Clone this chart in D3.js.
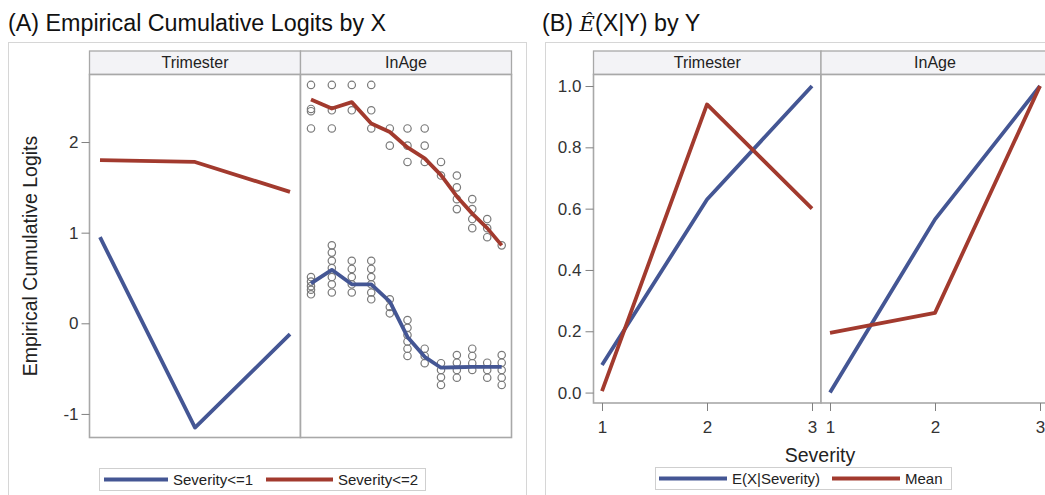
<!DOCTYPE html>
<html>
<head>
<meta charset="utf-8">
<script src="https://cdn.jsdelivr.net/npm/d3@7"></script>
<style>
  body { margin: 0; background: #fff; }
  text { font-family: "Liberation Sans", Arial, sans-serif; }
</style>
</head>
<body>
<div id="chart"></div>
<script>
// ---- data ----
var panels = ["Trimester", "InAge"];

// (A) empirical cumulative logits
var trimester = [1, 2, 3];
var triSev1 = [0.95, -1.15, -0.12];
var triSev2 = [1.80, 1.78, 1.45];

var lnAge = [3.045, 3.091, 3.135, 3.178, 3.219, 3.258, 3.296, 3.332, 3.367, 3.401, 3.434, 3.466];
var ageSev1 = [0.44, 0.59, 0.43, 0.43, 0.24, -0.15, -0.37, -0.49, -0.485, -0.48, -0.48, -0.48];
var ageSev2 = [2.47, 2.37, 2.44, 2.205, 2.11, 1.94, 1.82, 1.635, 1.40, 1.21, 1.05, 0.86];

// scatter of observed logits per lnAge column
var ageObs1 = [
  [0.51, 0.46, 0.41, 0.37, 0.32],
  [0.86, 0.78, 0.69, 0.61, 0.51, 0.43, 0.34],
  [0.69, 0.60, 0.51, 0.43, 0.34],
  [0.69, 0.60, 0.51, 0.43, 0.34, 0.265],
  [0.265, 0.18, 0.11],
  [0.036, -0.05, -0.13, -0.20, -0.28, -0.36],
  [-0.28, -0.36, -0.44],
  [-0.44, -0.515, -0.595, -0.68],
  [-0.35, -0.435, -0.515, -0.60],
  [-0.28, -0.36, -0.44, -0.515],
  [-0.435, -0.515, -0.60],
  [-0.35, -0.435, -0.515, -0.60, -0.68]
];
var ageObs2 = [
  [2.63, 2.365, 2.34, 2.15],
  [2.63, 2.35, 2.15],
  [2.63, 2.35],
  [2.63, 2.35, 2.15],
  [2.15, 1.96],
  [2.15, 1.96, 1.78],
  [2.15, 1.96, 1.78],
  [1.78, 1.63],
  [1.63, 1.50, 1.37, 1.26],
  [1.37, 1.26, 1.15, 1.05],
  [1.15, 1.05, 0.95],
  [0.86]
];
var logitTicks = [-1, 0, 1, 2];

// (B) E(X|Y) by Y
var severity = [1, 2, 3];
var bTriE = [0.09, 0.63, 1.0];
var bTriMean = [0.005, 0.94, 0.60];
var bAgeE = [0.0, 0.565, 1.0];
var bAgeMean = [0.195, 0.26, 1.0];
var propTicks = [0, 0.2, 0.4, 0.6, 0.8, 1.0];

var legendA = ["Severity<=1", "Severity<=2"];
var legendB = ["E(X|Severity)", "Mean"];

// ---- styles ----
var blue = "#445694", red = "#A23A2E";
var frameColor = "#d6d6d6", borderColor = "#a8a8a8";

var svg = d3.select("#chart").append("svg")
    .attr("width", 1045)
    .attr("height", 495);

// outer frames
svg.append("rect").attr("x", 8.5).attr("y", 42.5).attr("width", 518).attr("height", 470)
    .attr("fill", "none").attr("stroke", frameColor);
svg.append("rect").attr("x", 545.5).attr("y", 42.5).attr("width", 520).attr("height", 470)
    .attr("fill", "none").attr("stroke", frameColor);

// titles
svg.append("text").attr("x", 8).attr("y", 31)
    .style("font-size", "23.3px").attr("fill", "#111")
    .text("(A) Empirical Cumulative Logits by X");

var tB = svg.append("text").attr("x", 542).attr("y", 31)
    .style("font-size", "23.3px").attr("fill", "#111");
tB.append("tspan").text("(B) ");
tB.append("tspan").style("font-family", "'DejaVu Serif', serif").style("font-style", "italic")
    .style("font-size", "21px").text("Ê");
tB.append("tspan").text("(X|Y) by Y");

var line = d3.line().x(d => d[0]).y(d => d[1]);

function facet(x0, x1, top, bot, label) {
  svg.append("rect").attr("x", x0).attr("y", 51).attr("width", x1 - x0).attr("height", top - 51)
      .attr("fill", "#f3f3f6").attr("stroke", borderColor).attr("stroke-width", 1.3);
  svg.append("text").attr("x", (x0 + x1) / 2).attr("y", 68)
      .attr("text-anchor", "middle").style("font-size", "16px").attr("fill", "#222")
      .text(label);
  svg.append("rect").attr("x", x0).attr("y", top).attr("width", x1 - x0).attr("height", bot - top)
      .attr("fill", "#fff").attr("stroke", borderColor).attr("stroke-width", 1.6);
}

function styleAxis(g, size) {
  g.select(".domain").remove();
  g.selectAll(".tick line").attr("stroke", "#808080");
  g.selectAll(".tick text").style("font-size", size).attr("fill", "#333");
}

// ================= (A) =================
var aTop = 74.5, aBot = 437.5;
var yA = d3.scaleLinear().domain([-1.26, 2.745]).range([aBot, aTop]);
var xTri = d3.scaleLinear().domain([1, 3]).range([100, 290]);
var xAge = d3.scaleLinear().domain([3.045, 3.466]).range([311, 501.7]);

facet(89.5, 300.5, aTop, aBot, panels[0]);
facet(300.5, 511.5, aTop, aBot, panels[1]);

svg.append("g").attr("transform", "translate(89.5,0)")
    .call(d3.axisLeft(yA).tickValues(logitTicks).tickSize(8).tickPadding(3).tickFormat(d => String(d)))
    .call(g => styleAxis(g, "17px"));

svg.append("text")
    .attr("transform", "translate(37," + ((aTop + aBot) / 2) + ") rotate(-90)")
    .attr("text-anchor", "middle").style("font-size", "19.5px").attr("fill", "#222")
    .text("Empirical Cumulative Logits");

// observed circles
[ageObs1, ageObs2].forEach(function(obs) {
  obs.forEach(function(col, i) {
    svg.append("g").selectAll("circle").data(col).enter().append("circle")
        .attr("cx", xAge(lnAge[i]))
        .attr("cy", d => yA(d))
        .attr("r", 3.7)
        .attr("fill", "none")
        .attr("stroke", "#7a7a7a")
        .attr("stroke-width", 1.2);
  });
});

function drawLine(xs, ys, xsc, ysc, color) {
  svg.append("path")
      .datum(xs.map((v, i) => [xsc(v), ysc(ys[i])]))
      .attr("d", line)
      .attr("fill", "none")
      .attr("stroke", color)
      .attr("stroke-width", 3.8)
      .attr("stroke-linejoin", "round");
}

drawLine(trimester, triSev1, xTri, yA, blue);
drawLine(trimester, triSev2, xTri, yA, red);
drawLine(lnAge, ageSev1, xAge, yA, blue);
drawLine(lnAge, ageSev2, xAge, yA, red);

function legend(x, y, w, labels, items) {
  svg.append("rect").attr("x", x).attr("y", y).attr("width", w).attr("height", 22)
      .attr("fill", "#fff").attr("stroke", "#cfcfcf");
  items.forEach(function(it, i) {
    svg.append("line").attr("x1", it[0]).attr("x2", it[1]).attr("y1", y + 11).attr("y2", y + 11)
        .attr("stroke", i === 0 ? blue : red).attr("stroke-width", 3.8);
    svg.append("text").attr("x", it[1] + 5).attr("y", y + 16.5)
        .style("font-size", "15px").attr("fill", "#222").text(labels[i]);
  });
}

legend(99.5, 468.5, 326, legendA, [[104, 168], [266, 333]]);

// ================= (B) =================
var bTop = 74.5, bBot = 403;
var yB = d3.scaleLinear().domain([-0.034, 1.0376]).range([bBot, bTop]);
var xB1 = d3.scaleLinear().domain([1, 3]).range([602, 812]);
var xB2 = d3.scaleLinear().domain([1, 3]).range([830, 1040]);

facet(593.5, 821, bTop, bBot, panels[0]);
facet(821, 1049, bTop, bBot, panels[1]);

svg.append("g").attr("transform", "translate(593.5,0)")
    .call(d3.axisLeft(yB).tickValues(propTicks).tickSize(8).tickPadding(4).tickFormat(d3.format(".1f")))
    .call(g => styleAxis(g, "17px"));

[xB1, xB2].forEach(function(xs) {
  svg.append("g").attr("transform", "translate(0," + bBot + ")")
      .call(d3.axisBottom(xs).tickValues(severity).tickSize(8).tickPadding(10).tickFormat(d3.format("d")))
      .call(g => styleAxis(g, "17px"));
});

svg.append("text").attr("x", 820).attr("y", 462)
    .attr("text-anchor", "middle").style("font-size", "19.5px").attr("fill", "#222")
    .text("Severity");

drawLine(severity, bTriE, xB1, yB, blue);
drawLine(severity, bTriMean, xB1, yB, red);
drawLine(severity, bAgeE, xB2, yB, blue);
drawLine(severity, bAgeMean, xB2, yB, red);

legend(655.5, 467.5, 296, legendB, [[659, 727], [832, 900]]);
</script>
</body>
</html>
